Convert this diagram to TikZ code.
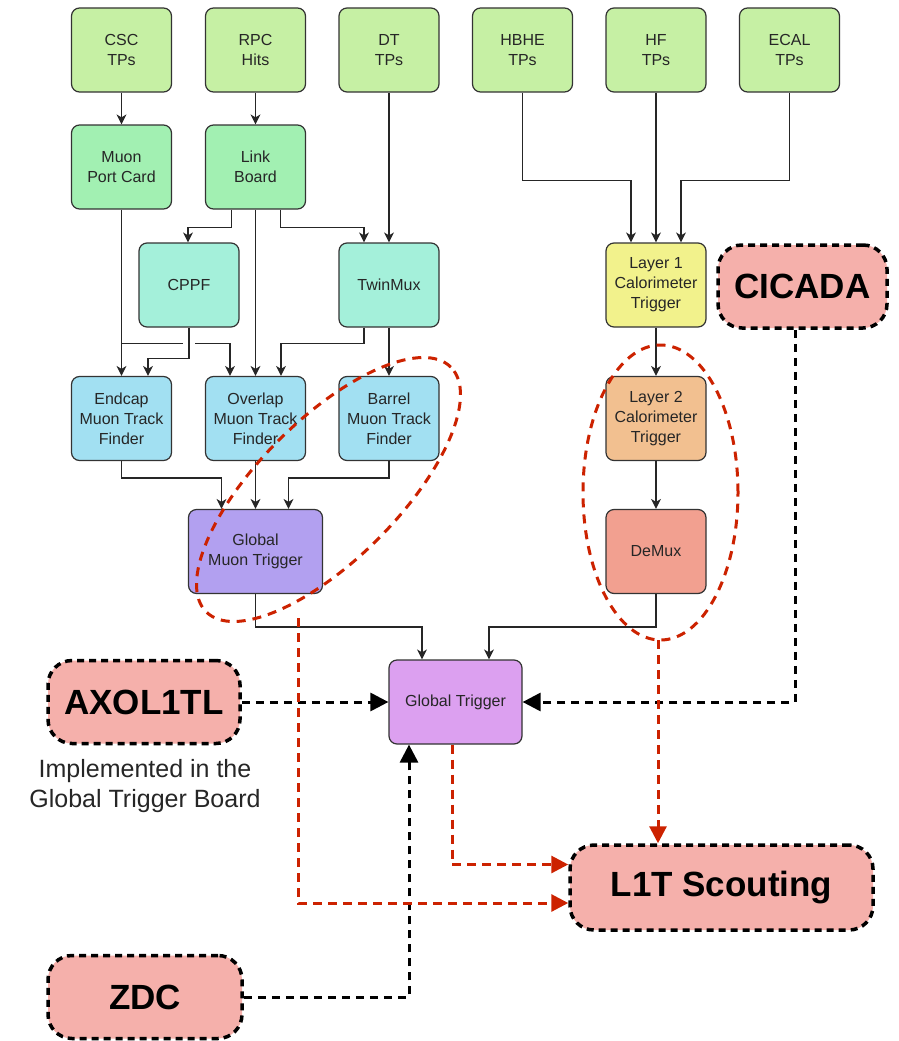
\documentclass[tikz,border=0pt]{standalone}
\usepackage{fontspec}
\setmainfont{Liberation Sans}
\usetikzlibrary{arrows.meta}
\definecolor{tpgreen}{HTML}{C6F0A4}
\definecolor{boardgreen}{HTML}{A2F0B2}
\definecolor{mint}{HTML}{A4F0DA}
\definecolor{tfblue}{HTML}{A2E0F2}
\definecolor{gmtpurple}{HTML}{B2A0F0}
\definecolor{gtpurple}{HTML}{DCA0F0}
\definecolor{layerone}{HTML}{F2F28C}
\definecolor{layertwo}{HTML}{F2C090}
\definecolor{demuxred}{HTML}{F2A090}
\definecolor{mlpink}{HTML}{F5B0AB}
\definecolor{scoutred}{HTML}{CC2200}

\begin{document}
\begin{tikzpicture}[x=1pt,y=-1pt,
    box/.style={draw=black!80, line width=1.2pt, rounded corners=8pt, minimum width=100pt,
        minimum height=84pt, inner sep=0pt, align=center, text=black!85,
        font=\fontsize{16}{20}\selectfont},
    mlbox/.style={draw=black, fill=mlpink, line width=3.5pt, dash pattern=on 7pt off 5pt,
        rounded corners=24pt, minimum height=83pt, inner sep=0pt,
        font=\fontsize{35}{40}\selectfont\bfseries},
    arr/.style={line width=1.3pt, black!85, -{Stealth[length=10pt,width=10pt,inset=3pt]}},
    feed/.style={line width=3pt, dash pattern=on 8pt off 6pt, -{Triangle[length=18pt,width=18pt]}},
    scout/.style={line width=3pt, scoutred, dash pattern=on 9pt off 6pt, -{Triangle[length=17pt,width=17pt]}},
    loop/.style={line width=3pt, scoutred, dash pattern=on 9pt off 7pt}]
    \useasboundingbox (0,0) rectangle (899,1041);

    \node[box, fill=tpgreen] (csc) at (121.5,50) {CSC\\TPs};
    \node[box, fill=tpgreen] (rpc) at (255.5,50) {RPC\\Hits};
    \node[box, fill=tpgreen] (dt) at (389,50) {DT\\TPs};
    \node[box, fill=tpgreen] (hbhe) at (522.5,50) {HBHE\\TPs};
    \node[box, fill=tpgreen] (hf) at (656,50) {HF\\TPs};
    \node[box, fill=tpgreen] (ecal) at (789.5,50) {ECAL\\TPs};

    \node[box, fill=boardgreen] (mpc) at (121.5,167) {Muon\\Port Card};
    \node[box, fill=boardgreen] (link) at (255.5,167) {Link\\Board};
    \node[box, fill=mint] (cppf) at (189,285) {CPPF};
    \node[box, fill=mint] (twin) at (389,285) {TwinMux};
    \node[box, fill=layerone] (l1) at (656,285) {Layer 1\\Calorimeter\\Trigger};

    \node[box, fill=tfblue] (endcap) at (121.5,418.5) {Endcap\\Muon Track\\Finder};
    \node[box, fill=tfblue] (overlap) at (255.5,418.5) {Overlap\\Muon Track\\Finder};
    \node[box, fill=tfblue] (barrel) at (389,418.5) {Barrel\\Muon Track\\Finder};
    \node[box, fill=layertwo] (l2) at (656,418.5) {Layer 2\\Calorimeter\\Trigger};

    \node[box, fill=gmtpurple, minimum width=134pt] (gmt) at (255.5,551.5) {Global\\Muon Trigger};
    \node[box, fill=demuxred] (demux) at (656,551.5) {DeMux};
    \node[box, fill=gtpurple, minimum width=133pt] (gt) at (455.5,702) {Global Trigger};

    \node[mlbox, minimum width=169pt] (cicada) at (802.5,286.5) {CICADA};
    \node[mlbox, minimum width=192pt] (axol) at (144,702) {AXOL1TL};
    \node[mlbox, minimum width=194pt] (zdc) at (145,997) {ZDC};
    \node[mlbox, minimum width=303pt, minimum height=85pt] (l1ts) at (721.5,887.5) {L1T Scouting};
    \node[align=center, font=\fontsize{25}{30}\selectfont, text=black!85] (note) at (145,786)
        {Implemented in the\\Global Trigger Board};

    \draw[arr] (csc) -- (mpc);
    \draw[arr] (rpc) -- (link);
    \draw[arr] (dt) -- (twin);
    \draw[arr] ([xshift=-24pt]link.south) -- ++(0,18) -| ([xshift=-1pt]cppf.north);
    \draw[arr] ([xshift=25pt]link.south) -- ++(0,18) -| ([xshift=-25pt]twin.north);
    \draw[arr] (link) -- (overlap);
    \draw[arr] (mpc) -- (endcap);
    \draw[arr] (cppf.south) -- ++(0,31) -| ([xshift=26.5pt]endcap.north);
    \draw[line width=1.3pt, black!85] ([yshift=-134pt]mpc.south) -- ++(61.5,0);
    \draw[arr] ([yshift=-134pt,xshift=73.5pt]mpc.south) -| ([xshift=-25.5pt]overlap.north);
    \draw[arr] ([xshift=-25pt]twin.south) -- ++(0,16) -| ([xshift=25.5pt]overlap.north);
    \draw[arr] (twin) -- (barrel);
    \draw[arr] (endcap.south) -- ++(0,17) -| ([xshift=-34pt]gmt.north);
    \draw[arr] (overlap) -- (gmt);
    \draw[arr] (barrel.south) -- ++(0,17) -| ([xshift=33pt]gmt.north);
    \draw[arr] (gmt.south) -- ++(0,33) -| ([xshift=-33.5pt]gt.north);
    \draw[arr] (demux.south) -- ++(0,33) -| ([xshift=33.5pt]gt.north);

    \draw[arr] (hbhe.south) -- ++(0,88) -| ([xshift=-25pt]l1.north);
    \draw[arr] (hf) -- (l1);
    \draw[arr] (ecal.south) -- ++(0,88) -| ([xshift=25pt]l1.north);
    \draw[arr] (l1) -- (l2);
    \draw[arr] (l2) -- (demux);

    \draw[loop, rotate around={45:(328.5,489.5)}] (328.5,489.5) ellipse [x radius=173pt, y radius=70pt];
    \draw[loop] (660.5,492.5) ellipse [x radius=77.5pt, y radius=147.5pt];

    \draw[feed] ([xshift=-7.5pt]cicada.south) |- (gt.east);
    \draw[feed] (axol) -- (gt);
    \draw[feed] (zdc.east) -| ([xshift=-46.5pt]gt.south);

    \coordinate (gmtout) at (298,618);
    \coordinate (calout) at (658,640);
    \draw[scout] (gmtout) |- ([yshift=-15.5pt]l1ts.west);
    \draw[scout] ([xshift=-3.5pt]gt.south) |- ([yshift=23pt]l1ts.west);
    \draw[scout] (calout) -- (calout |- l1ts.north);
\end{tikzpicture}
\end{document}
